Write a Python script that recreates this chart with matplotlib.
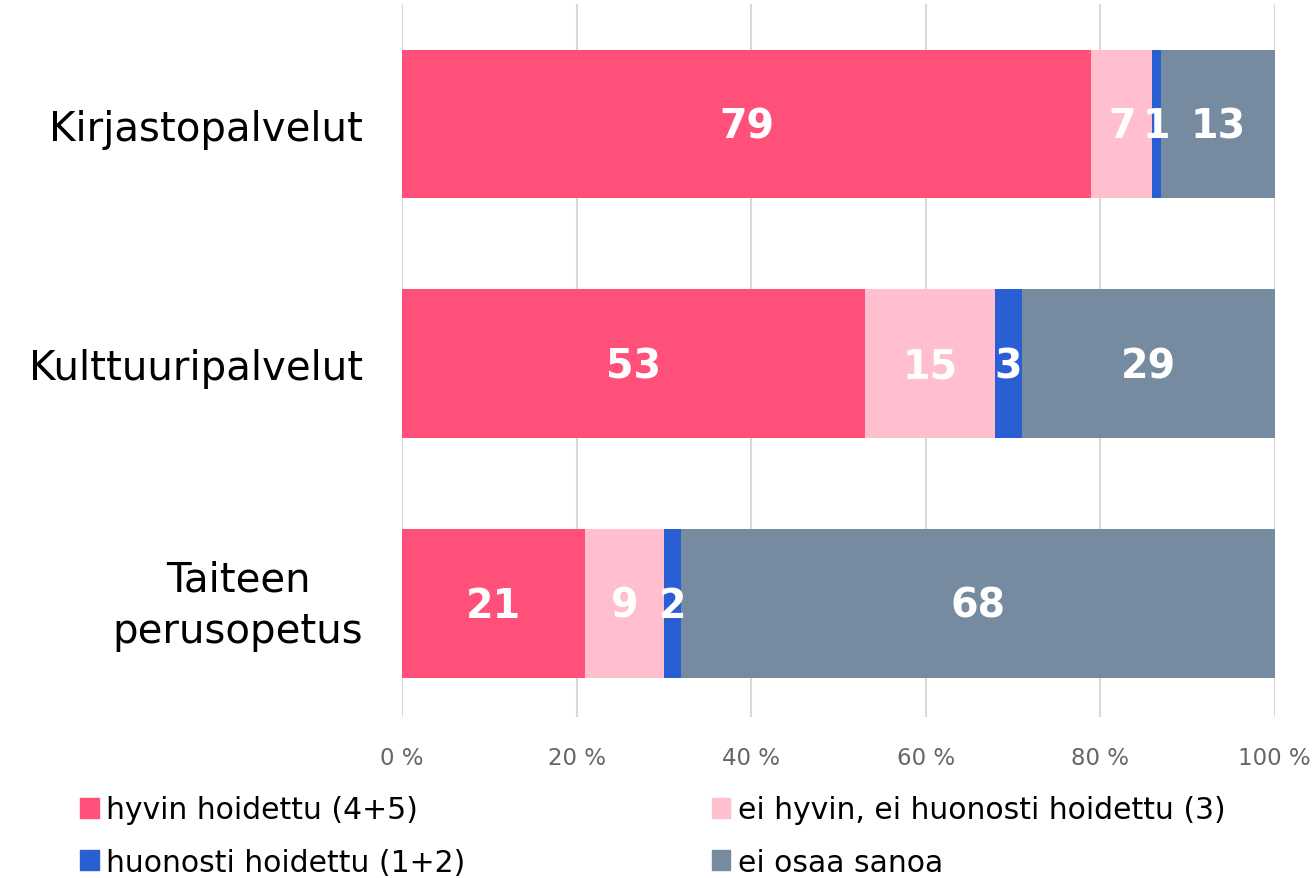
import matplotlib.pyplot as plt
import matplotlib.transforms as mtransforms
from matplotlib.patches import Patch

plt.rcParams['font.family'] = ['DejaVu Sans']

categories = ['Kirjastopalvelut', 'Kulttuuripalvelut', 'Taiteen\nperusopetus']
series_names = ['hyvin hoidettu (4+5)', 'ei hyvin, ei huonosti hoidettu (3)',
                'huonosti hoidettu (1+2)', 'ei osaa sanoa']
hyvin = [79, 53, 21]
ei_hyvin = [7, 15, 9]
huonosti = [1, 3, 2]
ei_osaa = [13, 29, 68]
colors = ['#FF5079', '#FFBFCF', '#2A5FD3', '#768BA0']
xticks = [0, 20, 40, 60, 80, 100]

fig = plt.figure(figsize=(13.14, 8.79), dpi=100)
ax = fig.add_axes([0.306, 0.183, 0.664, 0.811])

series = [hyvin, ei_hyvin, huonosti, ei_osaa]
ypos = range(len(categories))
left = [0, 0, 0]
for vals, col in zip(series, colors):
    bars = ax.barh(ypos, vals, left=left, height=0.62, color=col, zorder=2)
    for b, v in zip(bars, vals):
        ax.text(b.get_x() + b.get_width() / 2, b.get_y() + b.get_height() / 2 + 0.01, str(v),
                ha='center', va='center', color='white', fontsize=28.5,
                fontweight='bold', zorder=3)
    left = [l + v for l, v in zip(left, vals)]

ax.set_xlim(0, 100)
ax.set_ylim(2.475, -0.5)
ax.set_yticks(list(ypos))
ax.set_yticklabels(categories, fontsize=29, linespacing=1.35, multialignment='center')
ax.set_xticks(xticks)
ax.set_xticklabels([f'{t} %' for t in xticks], fontsize=16.5, color='#666666')
ax.tick_params(axis='y', length=0, pad=28)
ax.tick_params(axis='x', length=0, pad=21)
ax.grid(axis='x', color='#d9d9d9', linewidth=1.5, zorder=0)
for s in ax.spines.values():
    s.set_visible(False)

# nudge the two-line label up a bit
lbl = ax.get_yticklabels()[2]
lbl.set_transform(lbl.get_transform() + mtransforms.ScaledTranslation(0, 8 / 100, fig.dpi_scale_trans))

handles = [Patch(color=c) for c in colors]
order = [0, 2, 1, 3]
fig.legend([handles[i] for i in order], [series_names[i] for i in order],
           loc='upper left', bbox_to_anchor=(0.0609, 0.094), ncol=2, frameon=False,
           borderpad=0, borderaxespad=0,
           fontsize=21.5, handlelength=0.62, handleheight=0.62, handletextpad=0.25,
           columnspacing=8.25, labelspacing=0.78)

plt.savefig('out.png', dpi=100)
